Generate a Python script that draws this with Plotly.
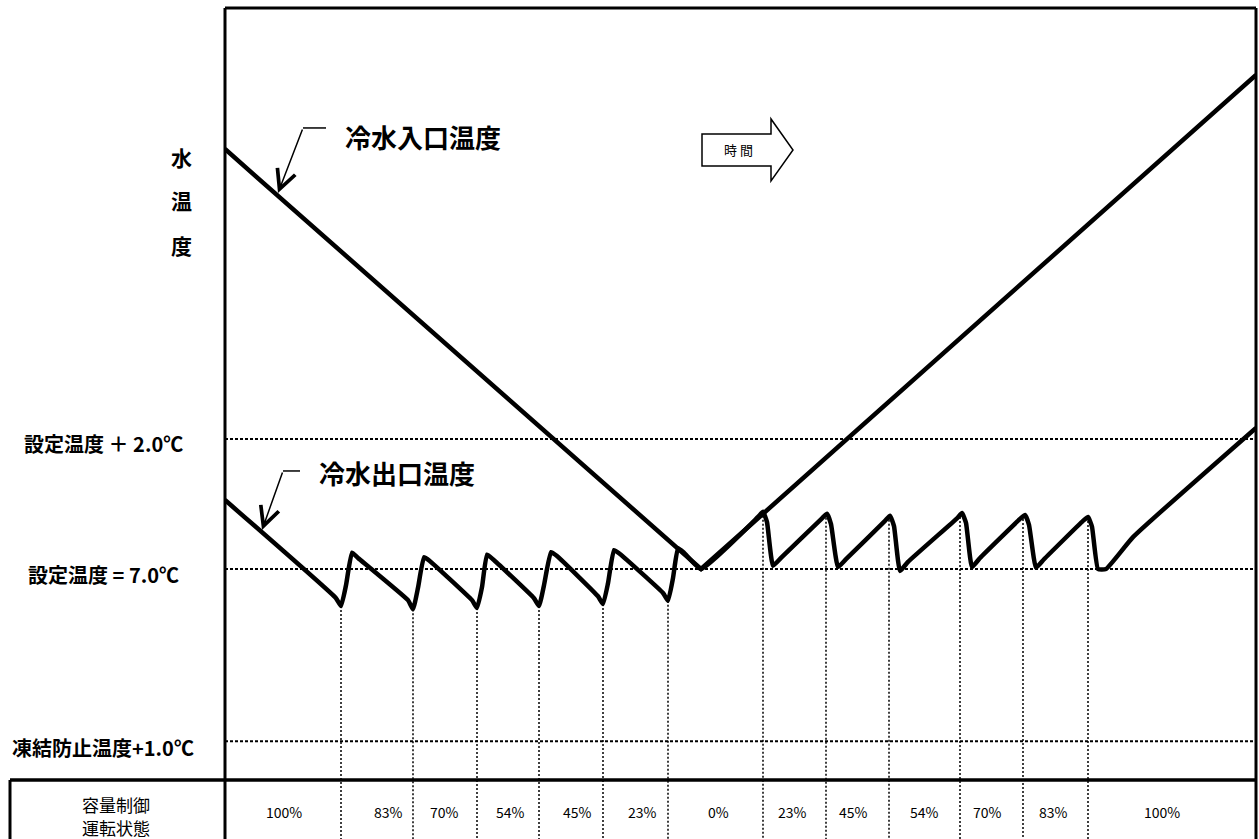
import plotly.graph_objects as go

# time in arbitrary steps (left frame = 0), temperature in deg C (set point = 7.0)
inlet_t = [0, 476, 1031]
inlet_T = [13.46, 7.0, 14.6]

outlet_t = [0, 111, 116, 121, 127, 133, 183, 188, 193, 199, 205, 247, 252, 257, 262, 268,
            309, 314, 319, 326, 332, 373, 378, 383, 389, 395, 438, 443, 448, 453, 459, 476,
            533, 538, 542, 548, 556, 597, 602, 606, 613, 621, 660, 665, 669, 675, 683,
            732, 737, 741, 747, 755, 795, 800, 804, 811, 819, 858, 863, 867, 873, 881, 908, 1031]
outlet_T = [8.06, 6.55, 6.43, 6.75, 7.25, 7.17, 6.52, 6.38, 6.71, 7.18, 7.12, 6.52, 6.40, 6.72, 7.22, 7.15,
            6.55, 6.43, 6.75, 7.26, 7.20, 6.58, 6.46, 6.78, 7.29, 7.23, 6.63, 6.51, 6.86, 7.32, 7.25, 7.0,
            7.80, 7.88, 7.72, 7.05, 7.17, 7.78, 7.85, 7.69, 7.03, 7.15, 7.74, 7.82, 7.66, 6.97, 7.11,
            7.78, 7.86, 7.71, 7.03, 7.17, 7.77, 7.83, 7.68, 7.02, 7.15, 7.74, 7.80, 7.65, 7.0, 7.0, 7.49, 9.17]

# switching moments of capacity control (trough / peak of outlet temp)
switch_t = [116, 188, 252, 314, 378, 443, 538, 601, 664, 735, 798, 863]
switch_T = [6.43, 6.38, 6.40, 6.43, 6.46, 6.51, 7.88, 7.85, 7.82, 7.86, 7.83, 7.80]

levels_T = [9.0, 7.0, 4.35]
levels_label = ['設定温度 ＋ 2.0℃', '設定温度 = 7.0℃', '凍結防止温度+1.0℃']

capacity = ['100%', '83%', '70%', '54%', '45%', '23%', '0%', '23%', '45%', '54%', '70%', '83%', '100%']
capacity_t = [59, 163, 219, 285, 352, 417, 493, 567, 628, 699, 762, 828, 937]

T_MIN, T_MAX = 2.846, 15.63
T_MAX_T = 1031
JP = 'Noto Sans CJK JP'


# pixel helpers for decorations only (page pixels)
def X(px):
    return px - 225


def Y(py):
    return 7 + (569 - py) / 65


def PX(px):
    return (px - 225) / 1031


def PY(py):
    return (839 - py) / 831


fig = go.Figure()

# reference temperature levels
for lv in levels_T:
    fig.add_trace(go.Scatter(x=[0, T_MAX_T], y=[lv, lv], mode='lines',
                             line=dict(color='black', width=2, dash='3px,2px'),
                             hoverinfo='skip'))

# vertical switching lines
vx, vy = [], []
for t, T in zip(switch_t, switch_T):
    vx += [t, t, None]
    vy += [T, T_MIN, None]
fig.add_trace(go.Scatter(x=vx, y=vy, mode='lines',
                         line=dict(color='black', width=1.5, dash='2px,2px'),
                         hoverinfo='skip'))

fig.add_trace(go.Scatter(x=inlet_t, y=inlet_T, mode='lines', name='冷水入口温度',
                         line=dict(color='black', width=4.5)))
fig.add_trace(go.Scatter(x=outlet_t, y=outlet_T, mode='lines', name='冷水出口温度',
                         line=dict(color='black', width=4.5, shape='spline', smoothing=0.4)))

shapes = [
    # frame
    dict(type='line', xref='paper', yref='paper', x0=0, x1=1, y0=1, y1=1, line=dict(width=3)),
    dict(type='line', xref='paper', yref='paper', x0=0, x1=0, y0=0, y1=1, line=dict(width=3)),
    dict(type='line', xref='paper', yref='paper', x0=1, x1=1, y0=0, y1=1, line=dict(width=3)),
    # table
    dict(type='line', xref='paper', yref='paper', x0=PX(10), x1=1, y0=PY(780), y1=PY(780), line=dict(width=3.5)),
    dict(type='line', xref='paper', yref='paper', x0=PX(10), x1=PX(10), y0=0, y1=PY(780), line=dict(width=3)),
    # leader ticks
    dict(type='line', x0=X(303), x1=X(326), y0=Y(128), y1=Y(128), line=dict(width=1.5)),
    dict(type='line', x0=X(283), x1=X(300), y0=Y(471), y1=Y(471), line=dict(width=1.5)),
    # time arrow
    dict(type='path', line=dict(width=1.5, color='black'), fillcolor='white',
         path='M{},{} L{},{} L{},{} L{},{} L{},{} L{},{} L{},{} Z'.format(
             X(702), Y(134), X(771), Y(134), X(771), Y(119), X(793), Y(150),
             X(771), Y(181), X(771), Y(166), X(702), Y(166))),
]
for s in shapes:
    s.setdefault('line', {}).setdefault('color', 'black')

ann = [
    dict(x=X(343), y=Y(137), text='冷水入口温度', xanchor='left', font=dict(size=26, weight='bold')),
    dict(x=X(317), y=Y(473), text='冷水出口温度', xanchor='left', font=dict(size=26, weight='bold')),
    dict(x=X(278), y=Y(193), text='', showarrow=True, ax=25, ay=-65, arrowhead=5,
         arrowsize=2.5, arrowwidth=1.5, standoff=0, startstandoff=0),
    dict(x=X(262), y=Y(530), text='', showarrow=True, ax=21, ay=-59, arrowhead=5,
         arrowsize=2.5, arrowwidth=1.5, standoff=0, startstandoff=0),
    dict(x=X(738), y=Y(150), text='時 間', font=dict(size=13)),
]
for row, py in zip(['容量制御', '運転状態'], [805, 828]):
    ann.append(dict(xref='paper', x=PX(116), y=Y(py), text=row, font=dict(size=17)))
for ch, py in zip('水温度', [157, 200, 245]):
    ann.append(dict(xref='paper', x=PX(181), y=Y(py), text=ch, font=dict(size=21, weight='bold')))
for lv, lab, py in zip(levels_T, levels_label, [444, 575, 748]):
    ann.append(dict(xref='paper', x=PX(103), y=Y(py), text=lab, font=dict(size=20, weight='bold')))
for t, lab in zip(capacity_t, capacity):
    ann.append(dict(x=t, y=Y(812), text=lab, font=dict(size=14)))
for a in ann:
    a.setdefault('showarrow', False)
    a.setdefault('arrowcolor', 'black')
    a.setdefault('xanchor', 'center')
    a.setdefault('yanchor', 'middle')

fig.update_layout(
    width=1259, height=839,
    margin=dict(l=225, r=3, t=8, b=0),
    plot_bgcolor='white', paper_bgcolor='white',
    showlegend=False,
    font=dict(family=JP, color='black'),
    shapes=shapes, annotations=ann,
    xaxis=dict(range=[0, T_MAX_T], visible=False),
    yaxis=dict(range=[T_MIN, T_MAX], visible=False),
)
# drop the default page margin so the figure fills the window exactly
fig.write_html('out.html', config={'displayModeBar': False},
               post_script="document.body.style.margin='0';document.body.style.overflow='hidden';")
